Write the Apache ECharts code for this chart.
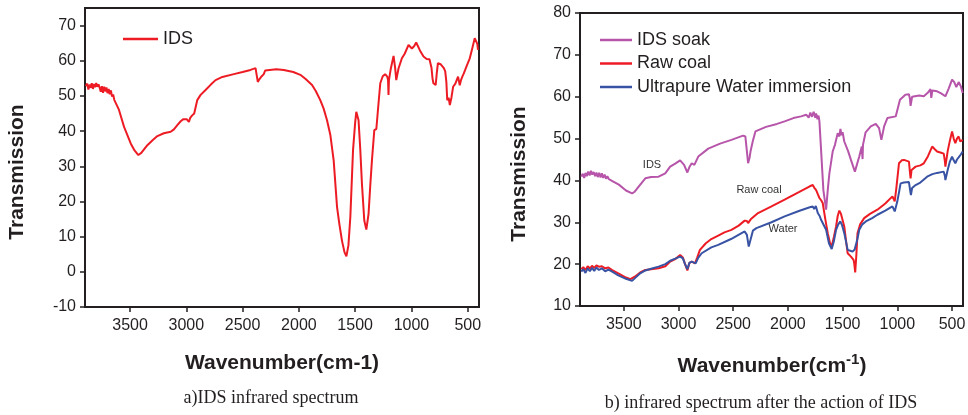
<!DOCTYPE html>
<html>
<head>
<meta charset="utf-8">
<script src="https://cdn.jsdelivr.net/npm/echarts@6/dist/echarts.min.js"></script>
<style>
html,body{margin:0;padding:0;background:#fff;}
#chart{width:968px;height:415px;}
</style>
</head>
<body>
<div id="chart"></div>
<script>
// ---------- Data ----------
var xTicks = [3500, 3000, 2500, 2000, 1500, 1000, 500];
var yTicksA = [-10, 0, 10, 20, 30, 40, 50, 60, 70];
var yTicksB = [10, 20, 30, 40, 50, 60, 70, 80];

// Panel a) IDS
var wnIDS = [3893,3880,3870,3860,3850,3840,3830,3820,3810,3800,3790,3780,3770,3760,3750,3740,3730,3720,3710,3700,3690,3680,3670,3660,3650,3640,3627,3600,3553,3494,3460,3426,3400,3346,3300,3257,3200,3139,3110,3080,3050,3026,2997,2985,2977,2965,2950,2930,2903,2873,2829,2780,2740,2680,2578,2500,2430,2385,2375,2365,2350,2330,2312,2300,2288,2200,2134,2050,1987,1940,1883,1850,1810,1780,1750,1720,1691,1661,1640,1617,1595,1578,1560,1543,1519,1500,1490,1480,1470,1455,1440,1419,1401,1381,1365,1351,1330,1312,1295,1277,1255,1234,1215,1208,1204,1200,1185,1159,1145,1135,1115,1085,1060,1026,996,975,958,940,926,893,865,840,822,813,805,792,785,775,765,753,740,712,700,690,682,670,659,645,630,610,586,571,560,548,535,510,482,460,438,425,415,409];
var valIDS = [52.8,53.5,51.8,53.2,52.3,53.6,52.0,53.4,52.5,53.7,52.6,53.3,52.4,51.2,52.8,50.9,52.6,51.3,52.4,50.8,52.0,50.5,51.6,49.8,50.4,48.9,48.8,46.2,41.2,36.5,34.5,33.2,33.8,36.0,37.4,38.6,39.4,39.8,40.5,41.7,42.8,43.4,43.4,43.0,42.6,43.8,44.4,45.0,48.8,50.3,51.7,53.3,54.5,55.4,56.2,56.8,57.4,57.9,57.6,54.0,54.8,55.6,56.2,57.2,57.7,57.6,57.4,56.8,56.0,54.8,53.1,51.4,48.8,46.4,43.1,38.8,31.7,18.4,13.5,8.8,5.6,4.4,7.5,15.6,34.6,42.5,45.5,45.0,43.1,35.0,25.1,14.6,12.0,16.5,25.0,31.7,40.3,40.6,47.0,53.6,55.6,56.2,55.5,54.5,50.3,54.5,57.5,61.4,58.0,54.5,57.8,60.7,62.0,64.5,63.5,64.2,65.2,64.0,63.0,61.2,60.5,60.4,58.0,55.0,53.6,53.5,53.1,56.5,59.3,59.3,59.0,57.9,57.0,54.0,48.8,49.5,47.4,49.5,52.6,53.5,55.5,53.0,54.5,55.5,56.4,58.5,60.7,63.5,66.4,66.2,64.8,63.1];

// Panel b) IDS soak
var wnSoak = [3888,3875,3862,3850,3838,3825,3812,3800,3788,3775,3762,3750,3738,3725,3712,3700,3688,3675,3662,3650,3636,3600,3545,3480,3424,3400,3364,3303,3250,3182,3121,3076,3030,2985,2949,2919,2900,2879,2855,2819,2728,2620,2516,2410,2389,2375,2364,2350,2342,2320,2297,2200,2100,2030,1950,1880,1833,1810,1795,1780,1765,1750,1742,1730,1720,1712,1697,1676,1651,1635,1621,1591,1570,1545,1530,1520,1510,1500,1485,1450,1424,1388,1348,1325,1318,1314,1290,1243,1197,1167,1146,1121,1091,1015,976,924,894,885,879,865,849,800,758,720,697,690,680,637,600,561,530,500,480,461,440,431,420,403];
var valSoak = [40.9,41.6,40.6,41.8,41.0,42.1,41.2,42.3,41.4,42.0,41.0,41.9,40.8,41.8,40.7,41.7,40.6,41.4,40.4,41.0,40.3,39.8,39.0,37.6,36.9,37.3,38.5,40.5,40.8,40.9,41.7,43.3,44.0,44.8,43.7,41.9,43.2,44.1,43.7,45.7,47.6,48.8,49.7,50.7,50.5,47.0,44.1,45.5,46.9,49.5,51.7,52.8,53.5,54.1,54.9,55.3,55.7,55.0,56.2,55.2,56.4,55.0,56.0,54.6,55.5,54.1,47.3,37.7,33.0,38.0,41.7,46.9,48.5,51.3,50.5,52.3,50.8,51.5,49.3,47.0,44.9,42.1,45.7,48.1,45.1,48.5,51.5,52.9,53.5,52.5,49.7,52.9,54.9,55.3,59.3,60.5,60.6,59.5,57.8,60.0,60.1,60.3,60.1,61.0,61.8,59.7,61.5,61.3,60.8,60.1,62.0,64.1,63.5,62.3,63.5,63.7,62.5,60.9];

// Panel b) Raw coal
var wnRaw = [3888,3870,3850,3830,3810,3790,3770,3750,3727,3700,3670,3640,3606,3550,3480,3439,3400,3350,3303,3250,3182,3120,3076,3030,2985,2960,2940,2919,2900,2879,2849,2830,2804,2750,2700,2637,2580,2516,2450,2395,2375,2364,2340,2273,2150,2030,1900,1800,1773,1760,1742,1725,1712,1695,1682,1660,1636,1615,1600,1580,1560,1545,1530,1515,1500,1485,1470,1454,1424,1400,1394,1385,1375,1364,1340,1303,1250,1182,1110,1045,1024,1010,985,960,939,894,885,879,870,833,790,758,720,682,660,637,600,576,565,561,540,520,500,485,470,455,440,425,403];
var valRaw = [18.8,19.3,18.6,19.5,19.0,19.6,19.1,19.7,19.4,19.5,19.0,19.2,18.6,17.8,16.8,16.4,17.0,18.0,18.6,18.8,19.0,19.5,20.6,21.2,22.2,21.6,20.0,18.5,20.3,20.6,20.2,21.5,23.4,25.0,26.0,26.8,27.6,28.2,29.2,30.4,30.3,29.8,30.7,32.2,33.8,35.4,37.2,38.6,38.9,38.3,37.7,36.6,35.8,35.2,34.6,31.0,27.4,25.0,24.2,26.5,29.0,31.5,32.8,32.0,30.5,29.0,25.8,22.6,21.8,21.0,20.2,18.0,22.0,27.4,29.5,31.0,32.0,33.0,34.5,36.2,35.0,38.0,44.1,44.8,44.9,44.5,42.0,40.5,42.5,43.3,43.6,44.1,45.8,48.1,47.5,46.9,46.6,46.4,44.5,43.3,47.0,49.5,51.7,50.0,48.9,50.0,50.5,49.3,49.7];

// Panel b) Ultrapure water immersion
var wnWater = [3888,3870,3850,3830,3810,3790,3770,3750,3727,3700,3670,3640,3606,3550,3480,3424,3400,3350,3303,3250,3182,3120,3076,3030,2985,2960,2940,2919,2900,2879,2843,2820,2788,2700,2637,2520,2395,2375,2358,2340,2320,2288,2150,2030,1900,1800,1773,1760,1745,1727,1710,1697,1680,1651,1625,1600,1580,1560,1540,1521,1505,1485,1470,1454,1430,1409,1390,1379,1365,1348,1320,1288,1230,1182,1110,1045,1024,1000,970,940,894,885,876,865,833,790,728,680,637,576,565,561,540,520,500,485,470,455,440,420,403];
var valWater = [18.2,18.8,17.9,19.0,18.3,19.1,18.4,19.2,18.6,19.0,18.3,18.7,18.2,17.3,16.5,16.0,16.6,17.8,18.5,18.9,19.4,20.0,20.8,21.3,21.8,21.4,20.0,18.8,20.3,20.6,20.2,21.5,22.6,24.0,24.6,26.0,27.8,27.0,24.2,26.0,28.0,28.6,30.0,31.4,32.7,33.6,33.8,33.2,33.9,32.2,31.5,30.6,30.2,28.2,25.0,23.6,25.5,28.2,29.5,30.2,29.3,27.4,25.5,23.4,23.2,23.0,23.5,23.8,26.0,28.2,29.5,30.2,31.0,31.8,32.8,33.8,32.6,35.0,39.3,39.5,39.6,38.0,36.5,38.2,38.9,39.5,40.9,41.5,41.8,42.1,41.0,40.1,42.5,44.5,45.7,44.8,44.1,45.0,45.5,46.2,46.9];

function pairs(xs, ys) { return xs.map(function (x, i) { return [x, ys[i]]; }); }

// ---------- Chart ----------
var chart = echarts.init(document.getElementById('chart'), null, {renderer: 'canvas'});
var ink = '#231f20';
var sans = 'Liberation Sans, Arial, sans-serif';
var tickFont = {color: ink, fontSize: 16, fontFamily: sans};
function plain(v) { return String(v); }

function xAxisDef(gi) {
  return {
    type: 'value', gridIndex: gi, min: 400, max: 3900, inverse: true,
    axisLine: {show: true, onZero: false, lineStyle: {color: ink, width: 2}},
    axisTick: {show: true, inside: false, length: 5, lineStyle: {color: ink, width: 1.5}, customValues: xTicks},
    axisLabel: Object.assign({margin: 11, customValues: xTicks, formatter: plain}, tickFont),
    splitLine: {show: false}
  };
}
function yAxisDef(gi, mn, mx, ticks) {
  return {
    type: 'value', gridIndex: gi, min: mn, max: mx,
    axisLine: {show: true, onZero: false, lineStyle: {color: ink, width: 2}},
    axisTick: {show: true, inside: false, length: 5, lineStyle: {color: ink, width: 1.5}, customValues: ticks},
    axisLabel: Object.assign({margin: 9, customValues: ticks, formatter: plain}, tickFont),
    splitLine: {show: false}
  };
}

var option = {
  animation: false,
  backgroundColor: '#ffffff',
  grid: [
    {left: 85, top: 8, width: 394, height: 299, show: true, borderColor: ink, borderWidth: 2, containLabel: false, outerBoundsMode: 'none'},
    {left: 580, top: 13, width: 383, height: 293, show: true, borderColor: ink, borderWidth: 2, containLabel: false, outerBoundsMode: 'none'}
  ],
  xAxis: [xAxisDef(0), xAxisDef(1)],
  yAxis: [yAxisDef(0, -10, 75, yTicksA), yAxisDef(1, 10, 80, yTicksB)],
  legend: [
    {
      data: ['IDS'], left: 118, top: 25, orient: 'vertical', icon: 'rect',
      itemWidth: 35, itemHeight: 2.5, itemGap: 4,
      textStyle: {color: ink, fontSize: 18, fontFamily: sans}
    },
    {
      data: ['IDS soak', 'Raw coal', 'Ultrapure Water immersion'], left: 595, top: 26, orient: 'vertical', icon: 'rect',
      itemWidth: 32, itemHeight: 2.5, itemGap: 5.5,
      textStyle: {color: ink, fontSize: 18, fontFamily: sans}
    }
  ],
  graphic: [
    {type: 'text', x: 17, y: 172, rotation: Math.PI / 2,
      style: {text: 'Transmission', font: 'bold 21px "Liberation Sans", Arial, sans-serif', fill: ink, textAlign: 'center', textVerticalAlign: 'middle'}},
    {type: 'text', x: 519, y: 174, rotation: Math.PI / 2,
      style: {text: 'Transmission', font: 'bold 21px "Liberation Sans", Arial, sans-serif', fill: ink, textAlign: 'center', textVerticalAlign: 'middle'}},
    {type: 'text', x: 282, y: 363,
      style: {text: 'Wavenumber(cm-1)', font: 'bold 21px "Liberation Sans", Arial, sans-serif', fill: ink, textAlign: 'center', textVerticalAlign: 'middle'}},
    {type: 'text', x: 772, y: 366,
      style: {text: 'Wavenumber(cm{sup|-1})',
        rich: {sup: {fontSize: 15, fontWeight: 'bold', fontFamily: sans, fill: ink, verticalAlign: 'top', lineHeight: 14}},
        font: 'bold 21px "Liberation Sans", Arial, sans-serif', fill: ink, textAlign: 'center', textVerticalAlign: 'middle', lineHeight: 28}},
    {type: 'text', x: 271, y: 398,
      style: {text: 'a)IDS infrared spectrum', font: '18px "Liberation Serif", "Times New Roman", serif', fill: ink, textAlign: 'center', textVerticalAlign: 'middle'}},
    {type: 'text', x: 761, y: 403,
      style: {text: 'b) infrared spectrum after the action of IDS', font: '18px "Liberation Serif", "Times New Roman", serif', fill: ink, textAlign: 'center', textVerticalAlign: 'middle'}},
    {type: 'text', x: 652, y: 165,
      style: {text: 'IDS', font: '11px "Liberation Sans", Arial, sans-serif', fill: '#333', textAlign: 'center', textVerticalAlign: 'middle'}},
    {type: 'text', x: 759, y: 190,
      style: {text: 'Raw coal', font: '11px "Liberation Sans", Arial, sans-serif', fill: '#333', textAlign: 'center', textVerticalAlign: 'middle'}},
    {type: 'text', x: 783, y: 229,
      style: {text: 'Water', font: '11px "Liberation Sans", Arial, sans-serif', fill: '#333', textAlign: 'center', textVerticalAlign: 'middle'}}
  ],
  series: [
    {name: 'IDS', type: 'line', xAxisIndex: 0, yAxisIndex: 0, data: pairs(wnIDS, valIDS),
      symbol: 'none', smooth: false, lineStyle: {color: '#ed1c24', width: 2}, itemStyle: {color: '#ed1c24'}},
    {name: 'IDS soak', type: 'line', xAxisIndex: 1, yAxisIndex: 1, data: pairs(wnSoak, valSoak),
      symbol: 'none', lineStyle: {color: '#b655a9', width: 2}, itemStyle: {color: '#b655a9'}},
    {name: 'Raw coal', type: 'line', xAxisIndex: 1, yAxisIndex: 1, data: pairs(wnRaw, valRaw),
      symbol: 'none', lineStyle: {color: '#ed1c24', width: 2}, itemStyle: {color: '#ed1c24'}},
    {name: 'Ultrapure Water immersion', type: 'line', xAxisIndex: 1, yAxisIndex: 1, data: pairs(wnWater, valWater),
      symbol: 'none', lineStyle: {color: '#3953a4', width: 2}, itemStyle: {color: '#3953a4'}}
  ]
};
chart.setOption(option);
</script>
</body>
</html>
